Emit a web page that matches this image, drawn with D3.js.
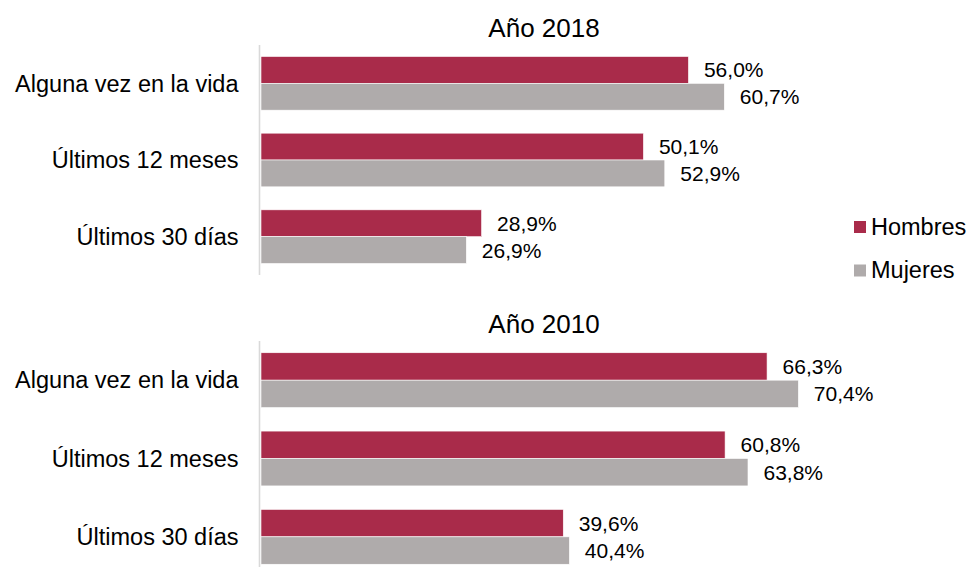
<!DOCTYPE html>
<html lang="es">
<head>
<meta charset="utf-8">
<title>Consumo por sexo, 2018 y 2010</title>
<script src="https://cdn.jsdelivr.net/npm/d3@7"></script>
<style>
    html, body { margin: 0; padding: 0; background: #fff; }
    #chart { width: 969px; height: 567px; overflow: hidden; }
    text { font-family: Arial, "Liberation Sans", sans-serif; fill: #000; }
</style>
</head>
<body>
<div id="chart"></div>
<script>

// data
const categories = ["Alguna vez en la vida", "Últimos 12 meses", "Últimos 30 días"];
const series = ["Hombres", "Mujeres"];
const years = ["Año 2018", "Año 2010"];

const hombres2018 = [56.0, 50.1, 28.9];
const mujeres2018 = [60.7, 52.9, 26.9];
const hombres2010 = [66.3, 60.8, 39.6];
const mujeres2010 = [70.4, 63.8, 40.4];

/* * * * * * * * * * * * * *
*        BarPanel          *
* * * * * * * * * * * * * */

class BarPanel {

    constructor(svg, title, hombres, mujeres, top, bottom) {
        this.svg = svg;
        this.title = title;
        this.hombres = hombres;
        this.mujeres = mujeres;
        this.top = top;
        this.bottom = bottom;

        this.colors = {Hombres: '#a92b4a', Mujeres: '#afabab'};

        this.initVis();
    }

    initVis() {
        let vis = this;

        vis.g = vis.svg.append('g');

        // same x scale for both years
        vis.x = d3.scaleLinear()
            .domain([0, 100])
            .range([261, 1024.3]);

        vis.y = d3.scaleBand()
            .domain(categories)
            .range([vis.top, vis.bottom])
            .paddingInner(0.3)
            .paddingOuter(0.15);

        vis.ySeries = d3.scaleBand()
            .domain(series)
            .range([0, vis.y.bandwidth()]);

        // title
        vis.g.append('text')
            .attr('x', 544)
            .attr('y', vis.top - 8)
            .attr('text-anchor', 'middle')
            .style('font-size', '26px')
            .text(vis.title);

        vis.wrangleData();
    }

    wrangleData() {
        let vis = this;

        vis.rows = [];
        categories.forEach((c, i) => {
            vis.rows.push({cat: c, serie: 'Hombres', value: vis.hombres[i]});
            vis.rows.push({cat: c, serie: 'Mujeres', value: vis.mujeres[i]});
        });

        vis.updateVis();
    }

    updateVis() {
        let vis = this;
        let fmt = d => d3.format('.1f')(d).replace('.', ',') + '%';

        vis.g.selectAll('.bar')
            .data(vis.rows)
            .enter().append('rect')
            .attr('class', 'bar')
            .attr('x', vis.x(0))
            .attr('y', d => vis.y(d.cat) + vis.ySeries(d.serie))
            .attr('width', d => vis.x(d.value) - vis.x(0))
            .attr('height', vis.ySeries.bandwidth())
            .attr('fill', d => vis.colors[d.serie])
            .attr('stroke', '#fff')
            .attr('stroke-width', 0.6);

        vis.g.selectAll('.value')
            .data(vis.rows)
            .enter().append('text')
            .attr('class', 'value')
            .attr('x', d => vis.x(d.value) + 15.5)
            .attr('y', d => vis.y(d.cat) + vis.ySeries(d.serie) + vis.ySeries.bandwidth() / 2)
            .attr('dy', '0.36em')
            .style('font-size', '21px')
            .text(d => fmt(d.value));

        // category axis
        let axis = d3.axisLeft(vis.y).tickSize(0).tickPadding(21);
        let axisG = vis.g.append('g')
            .attr('transform', `translate(${vis.x(0) - 1.5}, 0)`)
            .call(axis);

        axisG.select('.domain')
            .attr('d', `M0,${vis.top}V${vis.bottom}`)
            .attr('stroke', '#d9d9d9')
            .attr('stroke-width', 1.6);

        axisG.selectAll('.tick text')
            .attr('dy', '0.35em')
            .style('font-size', '23.5px')
            .style('font-family', 'Arial, "Liberation Sans", sans-serif')
            .attr('fill', '#000');
    }
}

let svg = d3.select('#chart').append('svg')
    .attr('width', 969)
    .attr('height', 567);

new BarPanel(svg, years[0], hombres2018, mujeres2018, 45, 275);
new BarPanel(svg, years[1], hombres2010, mujeres2010, 341, 576);

// legend
let legend = svg.append('g')
    .attr('class', 'legend');

let legendColors = ['#a92b4a', '#afabab'];

legend.selectAll('rect')
    .data(series)
    .enter().append('rect')
    .attr('x', 854)
    .attr('y', (d, i) => 221 + i * 43.5)
    .attr('width', 12)
    .attr('height', 12)
    .attr('fill', (d, i) => legendColors[i]);

legend.selectAll('text')
    .data(series)
    .enter().append('text')
    .attr('x', 871)
    .attr('y', (d, i) => 234.5 + i * 43.5)
    .style('font-size', '23.5px')
    .text(d => d);

</script>
</body>
</html>
